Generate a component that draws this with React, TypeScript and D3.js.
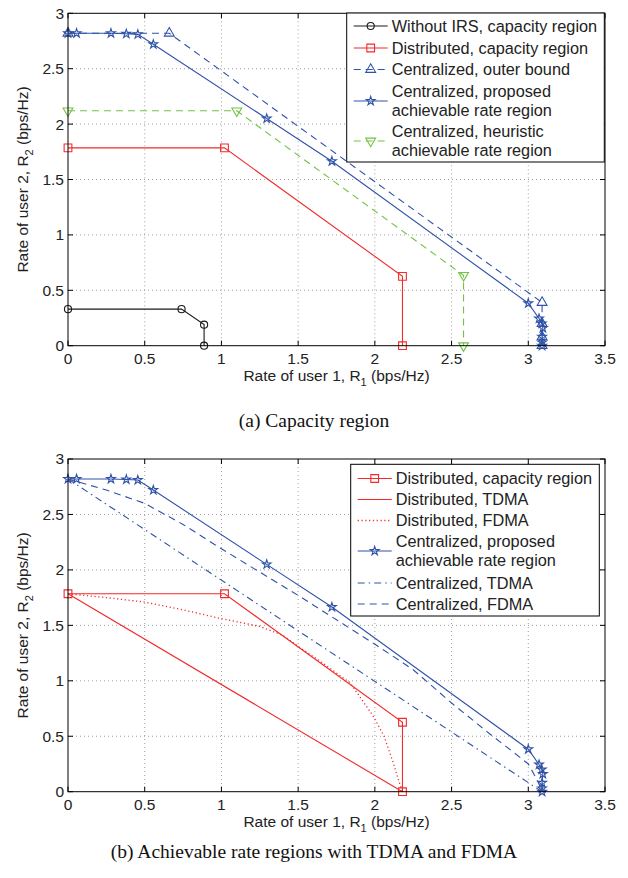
import React from "react";
import * as d3 from "d3";

// axis ticks
const xTicks = [0, 0.5, 1, 1.5, 2, 2.5, 3, 3.5];
const yTicks = [0, 0.5, 1, 1.5, 2, 2.5, 3];

// (a) capacity region
const withoutIrs = [[0, 0.33], [0.74, 0.33], [0.887, 0.19], [0.887, 0]];
const distCapacity = [[0, 1.785], [1.02, 1.785], [2.18, 0.626], [2.18, 0]];
const centOuter = [[0, 2.82], [0.66, 2.82], [3.09, 0.39], [3.09, 0.2], [3.09, 0.08], [3.09, 0]];
const centProposed = [
  [0, 2.82], [0.056, 2.82], [0.28, 2.82], [0.38, 2.815], [0.455, 2.81], [0.556, 2.72],
  [1.295, 2.05], [1.72, 1.665], [3.0, 0.383], [3.07, 0.245], [3.088, 0.2], [3.095, 0.16],
  [3.09, 0.08], [3.09, 0.03], [3.09, 0],
];
const centHeuristic = [[0, 2.12], [1.1, 2.12], [2.578, 0.635], [2.578, 0]];

// (b) TDMA / FDMA
const distTdma = [[0, 1.785], [2.18, 0]];
const distFdma = [
  [0, 1.785], [0.25, 1.75], [0.5, 1.71], [0.75, 1.64], [1.0, 1.56], [1.25, 1.49],
  [1.4, 1.41], [1.5, 1.31], [1.65, 1.17], [1.84, 0.98], [1.99, 0.68], [2.06, 0.5],
  [2.12, 0.26], [2.16, 0.08], [2.18, 0],
];
const centTdma = [[0, 2.82], [3.09, 0]];
const centFdma = [
  [0, 2.82], [0.25, 2.72], [0.5, 2.6], [0.75, 2.41], [1.0, 2.19], [1.25, 1.98],
  [1.5, 1.77], [1.75, 1.55], [2.0, 1.33], [2.25, 1.1], [2.5, 0.8], [2.75, 0.52],
  [2.9, 0.36], [3.0, 0.25], [3.06, 0.1], [3.09, 0],
];

const BLUE = "#2f52a8";
const RED = "#f22a2a";
const GREEN = "#72c243";
const BLACK = "#1a1a1a";
const SANS = "'Liberation Sans', Arial, Helvetica, sans-serif";
const SERIF = "'Liberation Serif', 'Times New Roman', serif";

const DASH = "7,5";
const DASHDOT = "7,4,1.5,4";
const DOT = "1.2,2.6";

const marker = (type, size) => {
  const sym = {
    circle: d3.symbolCircle,
    square: d3.symbolSquare,
    triUp: d3.symbolTriangle,
    triDown: d3.symbolTriangle,
    star: d3.symbolStar,
  }[type];
  return d3.symbol().type(sym).size(size)();
};

const markerSize = { circle: 40, square: 60, triUp: 42, triDown: 42, star: 24 };

function Marker({ type, x, y, color }) {
  return (
    <path
      d={marker(type, markerSize[type])}
      transform={`translate(${x},${y})${type === "triDown" ? " rotate(180)" : ""}`}
      fill="none"
      stroke={color}
      strokeWidth={1.1}
    />
  );
}

const panelA = {
  top: 13.3,
  bottom: 345.7,
  caption: "(a) Capacity region",
  captionY: 427,
  series: [
    { data: withoutIrs, color: BLACK, dash: null, marker: "circle" },
    { data: distCapacity, color: RED, dash: null, marker: "square" },
    { data: centOuter, color: BLUE, dash: DASH, marker: "triUp" },
    { data: centProposed, color: BLUE, dash: null, marker: "star" },
    { data: centHeuristic, color: GREEN, dash: DASH, marker: "triDown" },
  ],
  legend: {
    x0: 346.7, y0: 13, x1: 604.3, y1: 162,
    rows: [
      { color: BLACK, dash: null, marker: "circle", lines: ["Without IRS, capacity region"], y: 26 },
      { color: RED, dash: null, marker: "square", lines: ["Distributed, capacity region"], y: 48 },
      { color: BLUE, dash: DASH, marker: "triUp", lines: ["Centralized, outer bound"], y: 69.5 },
      { color: BLUE, dash: null, marker: "star", lines: ["Centralized, proposed", "achievable rate region"], y: 91.5 },
      { color: GREEN, dash: DASH, marker: "triDown", lines: ["Centralized, heuristic", "achievable rate region"], y: 131.5 },
    ],
  },
};

const panelB = {
  top: 459,
  bottom: 791.7,
  caption: "(b) Achievable rate regions with TDMA and FDMA",
  captionY: 858,
  series: [
    { data: distTdma, color: RED, dash: null, marker: null },
    { data: distFdma, color: RED, dash: DOT, marker: null, width: 1.3 },
    { data: centTdma, color: BLUE, dash: DASHDOT, marker: null },
    { data: centFdma, color: BLUE, dash: DASH, marker: null },
    { data: distCapacity, color: RED, dash: null, marker: "square" },
    { data: centProposed, color: BLUE, dash: null, marker: "star" },
  ],
  legend: {
    x0: 350.7, y0: 464.3, x1: 599.3, y1: 616,
    rows: [
      { color: RED, dash: null, marker: "square", lines: ["Distributed, capacity region"], y: 478.5 },
      { color: RED, dash: null, marker: null, lines: ["Distributed, TDMA"], y: 499.5 },
      { color: RED, dash: DOT, marker: null, lines: ["Distributed, FDMA"], y: 520.5 },
      { color: BLUE, dash: null, marker: "star", lines: ["Centralized, proposed", "achievable rate region"], y: 541.5 },
      { color: BLUE, dash: DASHDOT, marker: null, lines: ["Centralized, TDMA"], y: 583 },
      { color: BLUE, dash: DASH, marker: null, lines: ["Centralized, FDMA"], y: 604 },
    ],
  },
};

const LEFT = 68;
const RIGHT = 605;

function Panel({ cfg }) {
  const x = d3.scaleLinear().domain([0, 3.5]).range([LEFT, RIGHT]);
  const y = d3.scaleLinear().domain([0, 3]).range([cfg.bottom, cfg.top]);
  const line = d3.line().x((d) => x(d[0])).y((d) => y(d[1]));
  const midY = (cfg.top + cfg.bottom) / 2;
  const lg = cfg.legend;
  const lgSampleX0 = lg.x0 + 7;
  const lgSampleX1 = lg.x0 + 41;
  const lgTextX = lg.x0 + 45;

  return (
    <g>
      {/* grid */}
      {xTicks.slice(1, -1).map((t) => (
        <line key={"gx" + t} x1={x(t)} x2={x(t)} y1={cfg.top} y2={cfg.bottom}
          stroke="#888" strokeWidth={0.8} strokeDasharray="1,3" />
      ))}
      {yTicks.slice(1, -1).map((t) => (
        <line key={"gy" + t} x1={LEFT} x2={RIGHT} y1={y(t)} y2={y(t)}
          stroke="#888" strokeWidth={0.8} strokeDasharray="1,3" />
      ))}

      {/* series */}
      {cfg.series.map((s, i) => (
        <g key={"s" + i}>
          <path d={line(s.data)} fill="none" stroke={s.color} strokeWidth={s.width || 1.1}
            strokeDasharray={s.dash || undefined} />
          {s.marker && s.data.map((d, j) => (
            <Marker key={j} type={s.marker} x={x(d[0])} y={y(d[1])} color={s.color} />
          ))}
        </g>
      ))}

      {/* box and ticks */}
      <rect x={LEFT} y={cfg.top} width={RIGHT - LEFT} height={cfg.bottom - cfg.top}
        fill="none" stroke="#000" strokeWidth={1} />
      {xTicks.map((t) => (
        <g key={"tx" + t}>
          <line x1={x(t)} x2={x(t)} y1={cfg.bottom} y2={cfg.bottom - 5} stroke="#000" />
          <line x1={x(t)} x2={x(t)} y1={cfg.top} y2={cfg.top + 5} stroke="#000" />
          <text x={x(t)} y={cfg.bottom + 18} textAnchor="middle" fontFamily={SANS}
            fontSize={15.5} fill="#222">{t}</text>
        </g>
      ))}
      {yTicks.map((t) => (
        <g key={"ty" + t}>
          <line x1={LEFT} x2={LEFT + 5} y1={y(t)} y2={y(t)} stroke="#000" />
          <line x1={RIGHT} x2={RIGHT - 5} y1={y(t)} y2={y(t)} stroke="#000" />
          <text x={LEFT - 4} y={y(t)} dy="0.35em" textAnchor="end" fontFamily={SANS}
            fontSize={15.5} fill="#222">{t}</text>
        </g>
      ))}

      {/* axis labels */}
      <text x={(LEFT + RIGHT) / 2} y={cfg.bottom + 35} textAnchor="middle" fontFamily={SANS}
        fontSize={15.5} fill="#222">
        Rate of user 1, R<tspan fontSize={11} dy={5}>1</tspan><tspan dy={-5}> (bps/Hz)</tspan>
      </text>
      <text transform={`translate(28,${midY}) rotate(-90)`} textAnchor="middle" fontFamily={SANS}
        fontSize={15.5} fill="#222">
        Rate of user 2, R<tspan fontSize={11} dy={5}>2</tspan><tspan dy={-5}> (bps/Hz)</tspan>
      </text>

      {/* legend */}
      <rect x={lg.x0} y={lg.y0} width={lg.x1 - lg.x0} height={lg.y1 - lg.y0}
        fill="#fff" stroke="#000" strokeWidth={1} />
      {lg.rows.map((r, i) => {
        const ly = r.lines.length > 1 ? r.y + 9.5 : r.y;
        return (
          <g key={"lg" + i}>
            <line x1={lgSampleX0} x2={lgSampleX1} y1={ly} y2={ly} stroke={r.color}
              strokeWidth={r.dash === DOT ? 1.3 : 1.1} strokeDasharray={r.dash || undefined} />
            {r.marker && (
              <Marker type={r.marker} x={(lgSampleX0 + lgSampleX1) / 2} y={ly} color={r.color} />
            )}
            {r.lines.map((t, k) => (
              <text key={k} x={lgTextX} y={r.y + k * 19} dy="0.35em" fontFamily={SANS}
                fontSize={16.3} fill="#222">{t}</text>
            ))}
          </g>
        );
      })}

      {/* caption */}
      <text x={314} y={cfg.captionY} textAnchor="middle" fontFamily={SERIF} fontSize={19.5}
        fill="#111">{cfg.caption}</text>
    </g>
  );
}

export default function App() {
  return (
    <svg width={628} height={878} style={{ position: "absolute", left: 0, top: 0, background: "#fff" }}>
      <Panel cfg={panelA} />
      <Panel cfg={panelB} />
    </svg>
  );
}
